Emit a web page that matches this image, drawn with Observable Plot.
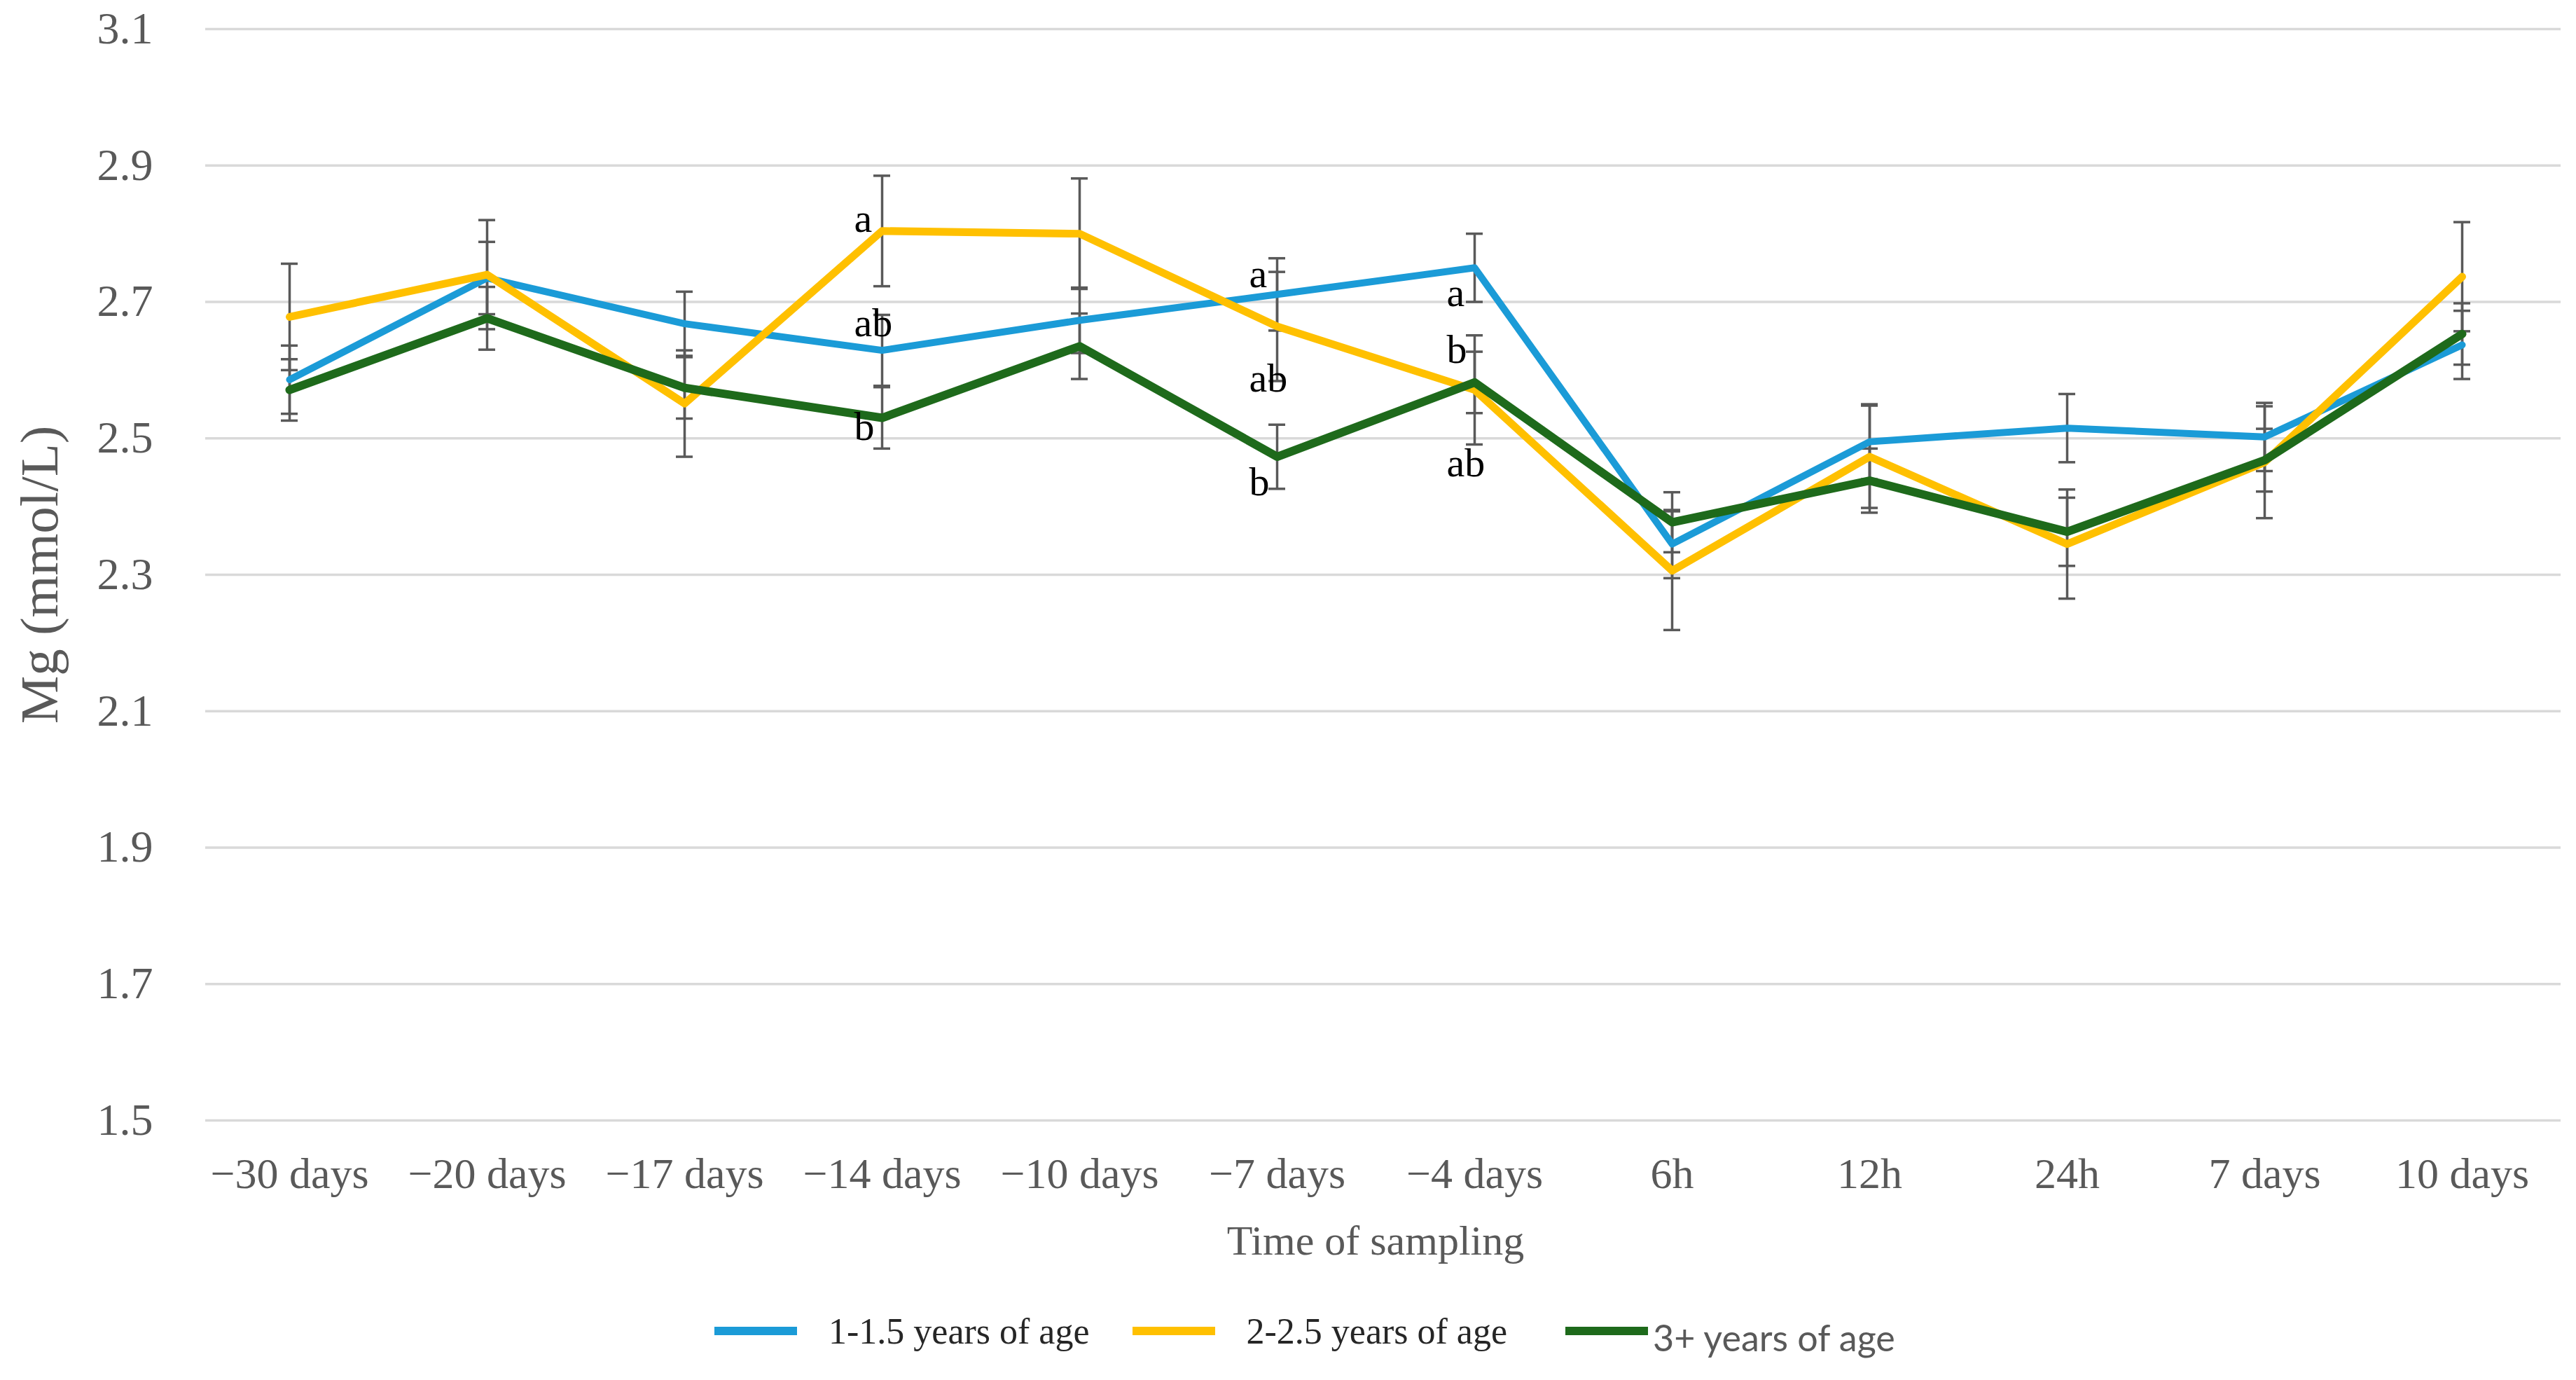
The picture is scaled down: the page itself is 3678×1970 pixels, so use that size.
<!DOCTYPE html>
<html>
<head>
<meta charset="utf-8">
<script src="https://cdn.jsdelivr.net/npm/d3@7"></script>
<script src="https://cdn.jsdelivr.net/npm/@observablehq/plot@0.6"></script>
<style>
  html, body { margin: 0; padding: 0; background: #fff; }
  #chart svg { display: block; }
  #legend { display: flex; align-items: center; height: 140px; padding-left: 1020px; box-sizing: border-box; }
  .sw { width: 118px; height: 12px; flex: none; }
  .lab { font-family: "Liberation Serif", serif; font-size: 52px; color: #262626; white-space: nowrap; }
</style>
</head>
<body>
<div id="chart"></div>
<div id="legend"></div>
<script>
// ---- data ----
const times = ["−30 days", "−20 days", "−17 days", "−14 days", "−10 days", "−7 days", "−4 days", "6h", "12h", "24h", "7 days", "10 days"];
const seriesNames = ["1-1.5 years of age", "2-2.5 years of age", "3+ years of age"];
const seriesColors = ["#1b9bd7", "#ffc000", "#1e6a1b"];

const mgYoung = [2.586, 2.735, 2.668, 2.629, 2.673, 2.711, 2.750, 2.345, 2.495, 2.515, 2.502, 2.637];
const errYoung = [0.050, 0.053, 0.047, 0.052, 0.048, 0.053, 0.050, 0.050, 0.055, 0.050, 0.050, 0.050];
const mgMid = [2.678, 2.740, 2.551, 2.804, 2.800, 2.664, 2.571, 2.306, 2.473, 2.345, 2.465, 2.737];
const errMid = [0.078, 0.080, 0.078, 0.081, 0.081, 0.080, 0.080, 0.087, 0.075, 0.080, 0.082, 0.080];
const mgOld = [2.571, 2.676, 2.574, 2.530, 2.635, 2.473, 2.582, 2.377, 2.438, 2.363, 2.468, 2.653];
const errOld = [0.045, 0.046, 0.045, 0.045, 0.048, 0.047, 0.045, 0.044, 0.047, 0.050, 0.046, 0.045];

const yTicks = [1.5, 1.7, 1.9, 2.1, 2.3, 2.5, 2.7, 2.9, 3.1];

// significance letters (annotation value on the y axis)
const letterTimes = ["−14 days", "−14 days", "−14 days", "−7 days", "−7 days", "−7 days", "−4 days", "−4 days", "−4 days"];
const letterTexts = ["a", "ab", "b", "a", "ab", "b", "a", "b", "ab"];
const letterValues = [2.822, 2.669, 2.517, 2.741, 2.588, 2.436, 2.713, 2.630, 2.463];

const yTitle = "Mg (mmol/L)";
const xTitle = "Time of sampling";

// ---- build tables ----
const means = [mgYoung, mgMid, mgOld];
const errs = [errYoung, errMid, errOld];
const rows = [];
seriesNames.forEach((s, i) => times.forEach((t, j) => rows.push({series: s, time: t, v: means[i][j], e: errs[i][j]})));
const letters = letterTimes.map((t, i) => ({time: t, text: letterTexts[i], v: letterValues[i]}));

const grey = "#595959";
const widths = [10, 11, 12];

const lineMarks = seriesNames.map((s, i) =>
  Plot.line(rows.filter(d => d.series === s), {
    x: "time", y: "v", stroke: seriesColors[i], strokeWidth: widths[i], strokeLinejoin: "round", strokeLinecap: "round"
  })
);

const capOpts = {x1: "time", x2: "time", stroke: grey, strokeWidth: 3.5, insetLeft: -12, insetRight: -12};

const chart = Plot.plot({
  width: 3678,
  height: 1830,
  marginLeft: 293,
  marginRight: 22,
  marginTop: 41,
  marginBottom: 231,
  style: {fontFamily: "'Liberation Serif', serif", background: "#fff", color: grey},
  x: {type: "point", domain: times, range: [410, 3517], padding: 0},
  y: {domain: [1.5, 3.1]},
  marks: [
    Plot.ruleY(yTicks, {stroke: "#d9d9d9", strokeWidth: 3.5}),
    Plot.axisY({ticks: yTicks, tickFormat: d3.format(".1f"), tickSize: 0, tickPadding: 75, fontSize: 64, label: null}),
    Plot.axisX({tickSize: 0, tickPadding: 52, fontSize: 62, label: null}),
    Plot.ruleX(rows, {x: "time", y1: d => d.v - d.e, y2: d => d.v + d.e, stroke: grey, strokeWidth: 3.5}),
    Plot.ruleY(rows, {...capOpts, y: d => d.v - d.e}),
    Plot.ruleY(rows, {...capOpts, y: d => d.v + d.e}),
    ...lineMarks,
    Plot.text(letters, {x: "time", y: "v", text: "text", textAnchor: "start", dx: -40, fontSize: 58, fill: "#000", lineAnchor: "middle"}),
    Plot.text([yTitle], {frameAnchor: "left", textAnchor: "middle", lineAnchor: "middle", dx: -236, rotate: -90, fontSize: 77, fill: grey}),
    Plot.text([xTitle], {frameAnchor: "bottom", textAnchor: "middle", lineAnchor: "middle", dy: 172, dx: -11, fontSize: 60, fill: grey})
  ]
});
document.getElementById("chart").appendChild(chart);

// ---- legend ----
const legend = document.getElementById("legend");
const gaps = [45, 45, 7];
const after = [61, 83, 0];
seriesNames.forEach((s, i) => {
  const sw = document.createElement("div");
  sw.className = "sw";
  sw.style.background = seriesColors[i];
  sw.style.marginRight = gaps[i] + "px";
  const lab = document.createElement("span");
  lab.className = "lab";
  lab.textContent = s;
  lab.style.marginRight = after[i] + "px";
  if (i === 2) {
    lab.style.fontFamily = "Lato, 'Open Sans', sans-serif";
    lab.style.fontSize = "52px";
    lab.style.color = grey;
    lab.style.position = "relative";
    lab.style.top = "9px";
  }
  legend.appendChild(sw);
  legend.appendChild(lab);
});
</script>
</body>
</html>
